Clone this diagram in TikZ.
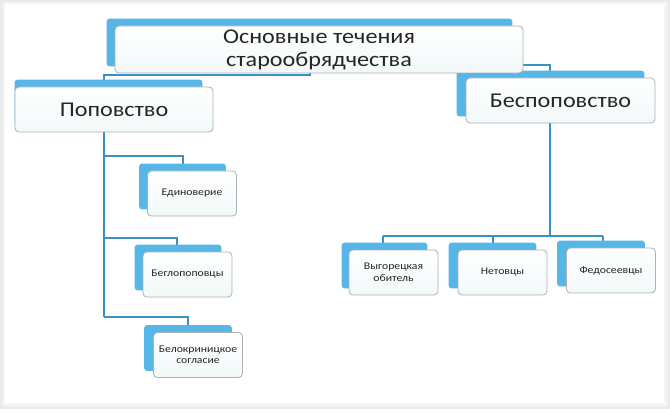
\documentclass[tikz,border=0pt]{standalone}
\usepackage{fontspec}
\setmainfont[FakeStretch=1.15]{Carlito}
\usetikzlibrary{calc,backgrounds}
\definecolor{tabblue}{RGB}{86,182,232}
\definecolor{linkblue}{RGB}{58,145,196}
\definecolor{boxline}{RGB}{170,178,180}
\definecolor{boxlow}{RGB}{242,248,249}

\begin{document}
\begin{tikzpicture}[x=1pt, y=-1pt,
      box/.style={draw=boxline, line width=0.8pt, rounded corners=4pt,
        top color=white, bottom color=boxlow, align=center,
        inner sep=2pt, text=black!85},
      big/.style={box, font=\fontsize{21}{23}\selectfont},
      small/.style={box, font=\fontsize{10.2}{11.5}\selectfont,
        minimum width=89pt, minimum height=45pt, text width=84pt},
      tab/.style={fill=tabblue, rounded corners=3pt},
      link/.style={draw=linkblue, line width=1.6pt}]
      \useasboundingbox (0,0) rectangle (670,409);

      \path
        (319,49.5) node[big, minimum width=408pt, minimum height=47pt] (top) {Основные течения\\старообрядчества}
        (114,109.5) node[big, minimum width=198pt, minimum height=45pt] (popov) {Поповство}
        (560.5,100.5) node[big, minimum width=189pt, minimum height=45pt] (bespop) {Беспоповство}
        (192,193.5) node[small] (edin) {Единоверие}
        (187.5,274.5) node[small] (beglo) {Беглопоповцы}
        (198,355) node[small] (belokr) {Белокриницкое\\согласие}
        (393.5,272.5) node[small] (vyg) {Выгорецкая\\обитель}
        (502.5,272.5) node[small] (net) {Нетовцы}
        (611,270.5) node[small] (fedos) {Федосеевцы};

      \coordinate (lstem) at (104,75);
      \coordinate (rstem) at (550,65);
      \coordinate (rbar) at (550,236);

      \begin{pgfonlayer}{background}
      % frame
      \fill[black!8] (0,0) rectangle (670,409);
      \fill[black!4] (3,2) rectangle (667,406);
      \fill[white] (5,4) rectangle (664,403);

      % connectors
      \draw[link] ([xshift=-9pt]top.south) |- (lstem) -- (lstem |- popov.north);
      \draw[link] (top.east |- rstem) -- (rstem) -- (rstem |- bespop.north);
      \draw[link] (lstem |- popov.south) -- (104,317);
      \draw[link] (104,156) -| (183,0 |- edin.north);
      \draw[link] (104,238) -| (177,0 |- beglo.north);
      \draw[link] (104,317) -| (188,0 |- belokr.north);
      \draw[link] (rstem |- bespop.south) -- (rbar);
      \draw[link] (383,236) -- (603,236);
      \foreach \x/\n in {383/vyg, 493/net, 603/fedos}
        \draw[link] (\x,236) -- (\x,0 |- \n.north);

      % blue tabs behind the boxes
      \foreach \n/\dx in {top/8, popov/0, bespop/9, edin/8, beglo/8,
                          belokr/9, vyg/7, net/9, fedos/9}
        \fill[tab] ([shift={(-\dx pt,7pt)}]\n.north west)
          rectangle ([shift={(-11pt,7pt)}]\n.south east);
      \end{pgfonlayer}
\end{tikzpicture}
\end{document}
